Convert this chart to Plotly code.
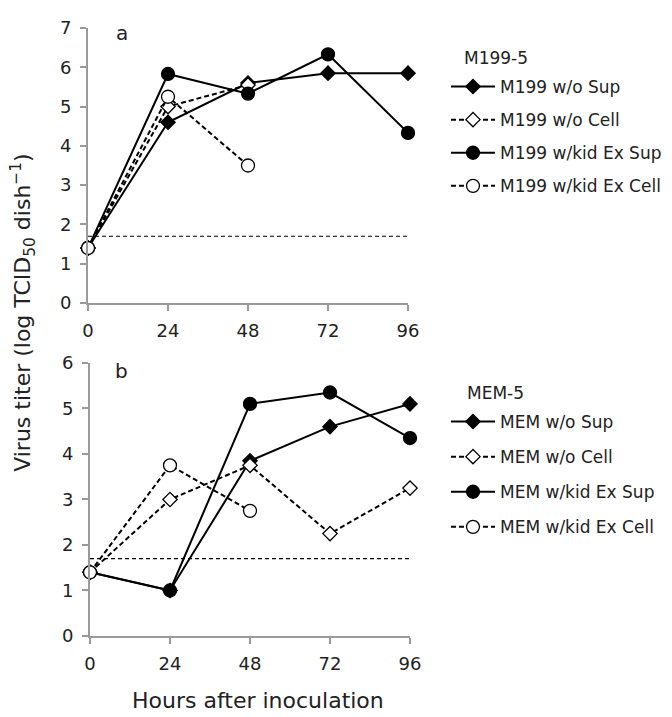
import plotly.graph_objects as go

hours = [0, 24, 48, 72, 96]
hours_short = [0, 24, 48]

# Panel a: M199-5
m199_wo_sup = [1.4, 4.6, 5.6, 5.85, 5.85]
m199_wo_cell = [1.4, 5.0, 5.55]
m199_kid_sup = [1.4, 5.83, 5.33, 6.33, 4.33]
m199_kid_cell = [1.4, 5.25, 3.5]

# Panel b: MEM-5
mem_wo_sup = [1.4, 1.0, 3.85, 4.6, 5.1]
mem_wo_cell = [1.4, 3.0, 3.75, 2.25, 3.25]
mem_kid_sup = [1.4, 1.0, 5.1, 5.35, 4.35]
mem_kid_cell = [1.4, 3.75, 2.75]

detection_limit = 1.7
x_ticks = [0, 24, 48, 72, 96]

FONT = "DejaVu Sans"
AXC = "#9a9a9a"
TXT = "#222"

fig = go.Figure()

def add_series(x, y, name, dashed, symbol, filled, xa, ya, legend, size):
    fig.add_trace(go.Scatter(
        x=x, y=y, name=name, mode="lines+markers",
        xaxis=xa, yaxis=ya, legend=legend, legendgroup=name,
        cliponaxis=False,
        line=dict(color="black", width=2, dash="5px,3px" if dashed else "solid"),
        marker=dict(symbol=symbol, size=size,
                    color="black" if filled else "white",
                    line=dict(color="black", width=1.3)),
    ))

add_series(hours, m199_wo_sup, "M199 w/o Sup", False, "diamond", True, "x", "y", "legend", 11)
add_series(hours_short, m199_wo_cell, "M199 w/o Cell", True, "diamond", False, "x", "y", "legend", 11)
add_series(hours, m199_kid_sup, "M199 w/kid Ex Sup", False, "circle", True, "x", "y", "legend", 13)
add_series(hours_short, m199_kid_cell, "M199 w/kid Ex Cell", True, "circle", False, "x", "y", "legend", 13)

add_series(hours, mem_wo_sup, "MEM w/o Sup", False, "diamond", True, "x2", "y2", "legend2", 11)
add_series(hours, mem_wo_cell, "MEM w/o Cell", True, "diamond", False, "x2", "y2", "legend2", 11)
add_series(hours, mem_kid_sup, "MEM w/kid Ex Sup", False, "circle", True, "x2", "y2", "legend2", 13)
add_series(hours_short, mem_kid_cell, "MEM w/kid Ex Cell", True, "circle", False, "x2", "y2", "legend2", 13)

for xa, ya in (("x", "y"), ("x2", "y2")):
    fig.add_trace(go.Scatter(
        x=[0, 96], y=[detection_limit, detection_limit], mode="lines",
        xaxis=xa, yaxis=ya, showlegend=False, hoverinfo="skip",
        line=dict(color="black", width=1.1, dash="4px,3px"),
    ))

axis_common = dict(
    showline=True, linecolor=AXC, linewidth=2,
    ticks="outside", tickcolor=AXC, tickwidth=2, ticklen=6,
    showgrid=False, zeroline=False,
    tickfont=dict(family=FONT, size=18, color=TXT),
)

# page has an 8px body margin; figure sized to fit window
OFF = 8
W, H = 672 - OFF, 717 - OFF
ml, mr, mt, mb = 80, 262, 9, 81
ph = H - mt - mb
pw = W - ml - mr


def px(xp):  # screenshot x pixel -> paper x
    return (xp - OFF - ml) / pw


def py(yp):  # screenshot y pixel -> paper y
    return 1 - (yp - OFF - mt) / ph


fig.update_layout(
    width=W, height=H,
    margin=dict(l=ml, r=mr, t=mt, b=mb),
    plot_bgcolor="white", paper_bgcolor="white",
    font=dict(family=FONT, size=17, color=TXT),
    xaxis=dict(domain=[0, 320 / pw], range=[0, 96], tickvals=x_ticks,
               anchor="y", ticklabelstandoff=4, **axis_common),
    yaxis=dict(domain=[py(297), 1], range=[0, 7], dtick=1,
               anchor="x", ticklabelstandoff=5, **axis_common),
    xaxis2=dict(domain=[2 / pw, 1], range=[0, 96], tickvals=x_ticks,
                anchor="y2", ticklabelstandoff=4, **axis_common),
    yaxis2=dict(domain=[0, py(358)], range=[0, 6], dtick=1,
                anchor="x2", ticklabelstandoff=5, **axis_common),
    showlegend=True,
    legend=dict(x=438 / W, y=1 - 61 / H, xref="container", yref="container",
                xanchor="left", yanchor="top", itemwidth=44,
                traceorder="grouped", tracegroupgap=8,
                font=dict(family=FONT, size=17, color=TXT),
                bgcolor="rgba(0,0,0,0)"),
    legend2=dict(x=438 / W, y=1 - 396 / H, xref="container", yref="container",
                 xanchor="left", yanchor="top", itemwidth=44,
                 traceorder="grouped", tracegroupgap=10,
                 font=dict(family=FONT, size=17, color=TXT),
                 bgcolor="rgba(0,0,0,0)"),
    annotations=[
        dict(text="a", x=px(121.5), y=py(22), xref="paper", yref="paper",
             showarrow=False, font=dict(family=FONT, size=20, color=TXT),
             xanchor="center", yanchor="middle"),
        dict(text="b", x=9.45, y=5.83, xref="x2", yref="y2", showarrow=False,
             font=dict(family=FONT, size=20, color=TXT), xanchor="center"),
        dict(text="M199-5", x=px(462), y=py(48), xref="paper", yref="paper",
             showarrow=False, xanchor="left", yanchor="middle",
             font=dict(family=FONT, size=17, color=TXT)),
        dict(text="MEM-5", x=px(465), y=py(389), xref="paper", yref="paper",
             showarrow=False, xanchor="left", yanchor="middle",
             font=dict(family=FONT, size=17, color=TXT)),
        dict(text="Hours after inoculation", x=px(258), y=py(702),
             xref="paper", yref="paper", showarrow=False,
             xanchor="center", yanchor="middle",
             font=dict(family=FONT, size=22, color=TXT)),
        dict(text="Virus titer (log TCID<sub>50</sub> dish<sup>\u22121</sup>)",
             x=px(23), y=py(307), xref="paper", yref="paper",
             showarrow=False, textangle=-90,
             xanchor="center", yanchor="middle",
             font=dict(family=FONT, size=22, color=TXT)),
    ],
)

fig.write_html("out.html")
